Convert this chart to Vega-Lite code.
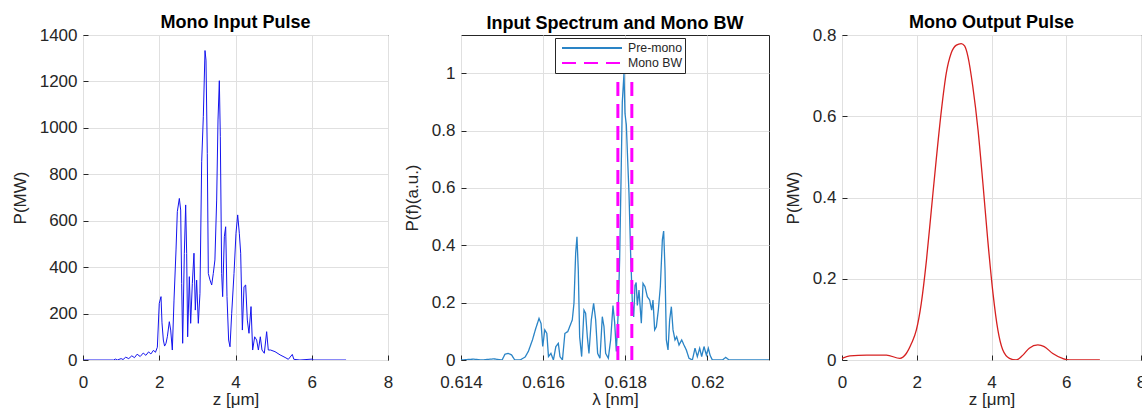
{
  "$schema": "https://vega.github.io/schema/vega-lite/v6.json",
  "padding": {"left": 10, "top": 13, "right": 0, "bottom": 0},
  "spacing": 73,
  "bounds": "flush",
  "resolve": {"scale": {"color": "independent", "strokeDash": "independent"}},
  "config": {
    "font": "Liberation Sans",
    "view": {"stroke": "#262626", "strokeWidth": 1},
    "axis": {
      "labelFontSize": 17, "labelColor": "#262626", "labelFont": "Liberation Sans",
      "titleFontSize": 17, "titleFontWeight": "normal", "titleColor": "#262626", "titleFont": "Liberation Sans",
      "gridColor": "#e0e0e0", "gridWidth": 1, "domain": false,
      "tickColor": "#262626", "tickSize": -5
    },
    "axisX": {"labelPadding": 19, "titlePadding": 1, "labelFlush": false},
    "axisY": {"labelPadding": 11, "titlePadding": 10},
    "title": {"fontSize": 18, "fontWeight": "bold", "offset": -6, "frame": "group", "color": "#000000", "font": "Liberation Sans"}
  },
  "datasets": {
    "pulse": [
      {"z":0,"P":0},{"z":0.8,"P":0},{"z":0.85,"P":4},{"z":0.9,"P":0},{"z":1.0,"P":6},{"z":1.05,"P":2},{"z":1.12,"P":12},{"z":1.2,"P":6},{"z":1.28,"P":18},{"z":1.35,"P":10},{"z":1.42,"P":25},{"z":1.5,"P":15},{"z":1.58,"P":30},{"z":1.65,"P":20},{"z":1.72,"P":35},{"z":1.78,"P":26},{"z":1.85,"P":42},{"z":1.9,"P":33},{"z":1.95,"P":55},
      {"z":2.0,"P":244},{"z":2.046,"P":273},{"z":2.072,"P":160},{"z":2.107,"P":86},{"z":2.14,"P":60},{"z":2.177,"P":72},{"z":2.212,"P":100},{"z":2.264,"P":165},{"z":2.3,"P":129},{"z":2.343,"P":43},{"z":2.387,"P":258},{"z":2.44,"P":474},{"z":2.474,"P":639},{"z":2.527,"P":696},{"z":2.562,"P":646},{"z":2.588,"P":330},{"z":2.614,"P":72},{"z":2.658,"P":459},{"z":2.693,"P":668},{"z":2.719,"P":459},{"z":2.745,"P":100},{"z":2.789,"P":359},{"z":2.824,"P":158},{"z":2.868,"P":330},{"z":2.911,"P":460},{"z":2.946,"P":215},{"z":2.981,"P":344},{"z":3.025,"P":158},{"z":3.068,"P":287},
      {"z":3.113,"P":854},{"z":3.156,"P":1048},{"z":3.2,"P":1333},{"z":3.226,"P":1292},{"z":3.26,"P":890},{"z":3.287,"P":373},{"z":3.33,"P":345},{"z":3.375,"P":323},{"z":3.418,"P":373},{"z":3.46,"P":431},{"z":3.506,"P":689},{"z":3.541,"P":1034},{"z":3.576,"P":1203},{"z":3.602,"P":962},{"z":3.637,"P":373},{"z":3.663,"P":273},{"z":3.707,"P":531},{"z":3.742,"P":574},{"z":3.777,"P":273},{"z":3.82,"P":86},{"z":3.856,"P":57},{"z":3.9,"P":201},{"z":3.961,"P":373},{"z":4.013,"P":546},{"z":4.057,"P":625},{"z":4.1,"P":546},{"z":4.136,"P":460},{"z":4.18,"P":129},{"z":4.223,"P":316},{"z":4.267,"P":323},{"z":4.31,"P":172},{"z":4.354,"P":115},{"z":4.407,"P":230},{"z":4.45,"P":43},{"z":4.503,"P":100},{"z":4.555,"P":86},{"z":4.6,"P":43},{"z":4.651,"P":100},{"z":4.695,"P":43},{"z":4.756,"P":29},{"z":4.817,"P":122},{"z":4.86,"P":43},{"z":4.92,"P":43},{"z":5.036,"P":36},{"z":5.17,"P":22},{"z":5.3,"P":11},{"z":5.386,"P":3},{"z":5.49,"P":24},{"z":5.53,"P":3},{"z":5.69,"P":0},{"z":6.02,"P":4},{"z":6.04,"P":0},{"z":6.9,"P":0}
    ],
    "spec": [
      {"lam":0.614,"P":0,"series":"Pre-mono"},{"lam":0.6143,"P":0.003,"series":"Pre-mono"},{"lam":0.6145,"P":0,"series":"Pre-mono"},{"lam":0.6148,"P":0.004,"series":"Pre-mono"},{"lam":0.615,"P":0,"series":"Pre-mono"},{"lam":0.61507,"P":0.02,"series":"Pre-mono"},{"lam":0.61515,"P":0.023,"series":"Pre-mono"},{"lam":0.61523,"P":0.018,"series":"Pre-mono"},{"lam":0.61531,"P":0,"series":"Pre-mono"},{"lam":0.61544,"P":0,"series":"Pre-mono"},{"lam":0.61556,"P":0.01,"series":"Pre-mono"},{"lam":0.61564,"P":0.03,"series":"Pre-mono"},{"lam":0.61574,"P":0.07,"series":"Pre-mono"},{"lam":0.61582,"P":0.11,"series":"Pre-mono"},{"lam":0.6159,"P":0.145,"series":"Pre-mono"},{"lam":0.61595,"P":0.127,"series":"Pre-mono"},{"lam":0.61599,"P":0.047,"series":"Pre-mono"},{"lam":0.61604,"P":0.105,"series":"Pre-mono"},{"lam":0.61609,"P":0.093,"series":"Pre-mono"},{"lam":0.61613,"P":0.012,"series":"Pre-mono"},{"lam":0.61619,"P":0.023,"series":"Pre-mono"},{"lam":0.61625,"P":0,"series":"Pre-mono"},{"lam":0.61631,"P":0.047,"series":"Pre-mono"},{"lam":0.61637,"P":0.058,"series":"Pre-mono"},{"lam":0.61641,"P":0.012,"series":"Pre-mono"},{"lam":0.61647,"P":0,"series":"Pre-mono"},{"lam":0.61653,"P":0.093,"series":"Pre-mono"},{"lam":0.6166,"P":0.099,"series":"Pre-mono"},
      {"lam":0.61671,"P":0.14,"series":"Pre-mono"},{"lam":0.616751,"P":0.198,"series":"Pre-mono"},{"lam":0.616792,"P":0.372,"series":"Pre-mono"},{"lam":0.616824,"P":0.43,"series":"Pre-mono"},{"lam":0.616856,"P":0.314,"series":"Pre-mono"},{"lam":0.616889,"P":0.081,"series":"Pre-mono"},{"lam":0.616938,"P":0.012,"series":"Pre-mono"},{"lam":0.616995,"P":0.174,"series":"Pre-mono"},{"lam":0.617035,"P":0.163,"series":"Pre-mono"},{"lam":0.617076,"P":0.081,"series":"Pre-mono"},{"lam":0.617116,"P":0.023,"series":"Pre-mono"},{"lam":0.617173,"P":0.14,"series":"Pre-mono"},{"lam":0.61723,"P":0.198,"series":"Pre-mono"},{"lam":0.617279,"P":0.14,"series":"Pre-mono"},{"lam":0.617327,"P":0.023,"series":"Pre-mono"},{"lam":0.617384,"P":0.006,"series":"Pre-mono"},{"lam":0.617441,"P":0.151,"series":"Pre-mono"},{"lam":0.617482,"P":0.116,"series":"Pre-mono"},{"lam":0.617522,"P":0.023,"series":"Pre-mono"},{"lam":0.617587,"P":0.006,"series":"Pre-mono"},{"lam":0.617644,"P":0.07,"series":"Pre-mono"},{"lam":0.617701,"P":0.19,"series":"Pre-mono"},{"lam":0.617742,"P":0.13,"series":"Pre-mono"},{"lam":0.617782,"P":0.03,"series":"Pre-mono"},{"lam":0.617823,"P":0.15,"series":"Pre-mono"},{"lam":0.617863,"P":0.35,"series":"Pre-mono"},{"lam":0.617896,"P":0.62,"series":"Pre-mono"},{"lam":0.617928,"P":0.9,"series":"Pre-mono"},{"lam":0.617969,"P":1.0,"series":"Pre-mono"},{"lam":0.617993,"P":0.86,"series":"Pre-mono"},{"lam":0.618026,"P":0.82,"series":"Pre-mono"},{"lam":0.618058,"P":0.7,"series":"Pre-mono"},{"lam":0.618091,"P":0.58,"series":"Pre-mono"},{"lam":0.618131,"P":0.37,"series":"Pre-mono"},{"lam":0.618172,"P":0.2,"series":"Pre-mono"},{"lam":0.618205,"P":0.15,"series":"Pre-mono"},{"lam":0.618237,"P":0.26,"series":"Pre-mono"},{"lam":0.618265,"P":0.27,"series":"Pre-mono"},{"lam":0.618294,"P":0.19,"series":"Pre-mono"},{"lam":0.618334,"P":0.244,"series":"Pre-mono"},{"lam":0.618391,"P":0.128,"series":"Pre-mono"},{"lam":0.618432,"P":0.267,"series":"Pre-mono"},{"lam":0.61848,"P":0.256,"series":"Pre-mono"},{"lam":0.618537,"P":0.221,"series":"Pre-mono"},{"lam":0.618594,"P":0.209,"series":"Pre-mono"},{"lam":0.618643,"P":0.174,"series":"Pre-mono"},{"lam":0.618675,"P":0.209,"series":"Pre-mono"},{"lam":0.618716,"P":0.105,"series":"Pre-mono"},{"lam":0.618757,"P":0.116,"series":"Pre-mono"},{"lam":0.618805,"P":0.174,"series":"Pre-mono"},{"lam":0.618854,"P":0.256,"series":"Pre-mono"},{"lam":0.618903,"P":0.419,"series":"Pre-mono"},{"lam":0.618935,"P":0.45,"series":"Pre-mono"},{"lam":0.618968,"P":0.314,"series":"Pre-mono"},{"lam":0.619,"P":0.07,"series":"Pre-mono"},{"lam":0.619041,"P":0.035,"series":"Pre-mono"},{"lam":0.619081,"P":0.14,"series":"Pre-mono"},{"lam":0.619122,"P":0.186,"series":"Pre-mono"},{"lam":0.619163,"P":0.105,"series":"Pre-mono"},{"lam":0.619211,"P":0.07,"series":"Pre-mono"},{"lam":0.619252,"P":0.081,"series":"Pre-mono"},{"lam":0.619309,"P":0.052,"series":"Pre-mono"},{"lam":0.619374,"P":0.07,"series":"Pre-mono"},{"lam":0.61943,"P":0.052,"series":"Pre-mono"},{"lam":0.619487,"P":0.035,"series":"Pre-mono"},{"lam":0.619552,"P":0.006,"series":"Pre-mono"},{"lam":0.619634,"P":0,"series":"Pre-mono"},{"lam":0.619698,"P":0.041,"series":"Pre-mono"},{"lam":0.619755,"P":0.012,"series":"Pre-mono"},{"lam":0.619812,"P":0.041,"series":"Pre-mono"},{"lam":0.619861,"P":0.012,"series":"Pre-mono"},{"lam":0.619918,"P":0.047,"series":"Pre-mono"},{"lam":0.619975,"P":0.017,"series":"Pre-mono"},{"lam":0.620023,"P":0.041,"series":"Pre-mono"},{"lam":0.620064,"P":0.017,"series":"Pre-mono"},{"lam":0.620121,"P":0,"series":"Pre-mono"},{"lam":0.620364,"P":0,"series":"Pre-mono"},{"lam":0.620446,"P":0.009,"series":"Pre-mono"},{"lam":0.620527,"P":0,"series":"Pre-mono"},{"lam":0.6216,"P":0,"series":"Pre-mono"}
    ],
    "bw": [
      {"lam":0.61782,"lo":0,"hi":1,"series":"Mono BW"},
      {"lam":0.61816,"lo":0,"hi":1,"series":"Mono BW"}
    ],
    "out": [
      {"z":0,"P":0.004},{"z":0.21,"P":0.01},{"z":0.66,"P":0.012},{"z":1.19,"P":0.012},{"z":1.55,"P":0.004},{"z":1.72,"P":0.016},{"z":1.86,"P":0.041},{"z":1.99,"P":0.074},{"z":2.12,"P":0.139},{"z":2.26,"P":0.246},{"z":2.39,"P":0.369},{"z":2.52,"P":0.492},{"z":2.66,"P":0.615},{"z":2.79,"P":0.706},{"z":2.92,"P":0.755},{"z":3.06,"P":0.775},{"z":3.19,"P":0.779},{"z":3.28,"P":0.773},{"z":3.37,"P":0.747},{"z":3.5,"P":0.673},{"z":3.64,"P":0.566},{"z":3.77,"P":0.435},{"z":3.9,"P":0.295},{"z":4.04,"P":0.164},{"z":4.17,"P":0.074},{"z":4.3,"P":0.025},{"z":4.48,"P":0.004},{"z":4.66,"P":0},{"z":4.84,"P":0.012},{"z":5.01,"P":0.029},{"z":5.24,"P":0.037},{"z":5.41,"P":0.033},{"z":5.64,"P":0.016},{"z":5.9,"P":0.004},{"z":6.08,"P":0},{"z":6.9,"P":0}
    ]
  },
  "hconcat": [
    {
      "width": 305, "height": 325,
      "title": "Mono Input Pulse",
      "data": {"name": "pulse"},
      "mark": {"type": "line", "color": "#1414ee", "strokeWidth": 1, "clip": true},
      "encoding": {
        "x": {"field": "z", "type": "quantitative", "scale": {"domain": [0, 8], "nice": false},
              "axis": {"title": "z [μm]", "values": [0, 2, 4, 6, 8], "format": "d"}},
        "y": {"field": "P", "type": "quantitative", "scale": {"domain": [0, 1400], "nice": false},
              "axis": {"title": "P(MW)", "values": [0, 200, 400, 600, 800, 1000, 1200, 1400], "format": "d"}}
      }
    },
    {
      "width": 308, "height": 325,
      "title": {"text": "Input Spectrum and Mono BW", "offset": 2.5},
      "layer": [
        {
          "data": {"name": "spec"},
          "mark": {"type": "line", "strokeWidth": 1.3, "clip": true},
          "encoding": {
            "x": {"field": "lam", "type": "quantitative", "scale": {"domain": [0.614, 0.6215], "nice": false, "zero": false},
                  "axis": {"title": "λ [nm]", "values": [0.614, 0.616, 0.618, 0.62], "format": "~g"}},
            "y": {"field": "P", "type": "quantitative", "scale": {"domain": [0, 1.1336], "nice": false},
                  "axis": {"title": "P(f)(a.u.)", "values": [0, 0.2, 0.4, 0.6, 0.8, 1], "format": "~g"}},
            "color": {"field": "series", "type": "nominal",
                      "scale": {"domain": ["Pre-mono", "Mono BW"], "range": ["#2a84c6", "#ff00ff"]},
                      "legend": {"title": null, "orient": "none", "legendX": 94, "legendY": 3, "strokeColor": "#262626", "fillColor": "#ffffff", "padding": 3, "rowPadding": 1, "symbolType": "M-0.5,0H9.5", "symbolSize": 144, "symbolStrokeWidth": 2, "labelOffset": 56, "labelFontSize": 12.3, "labelColor": "#262626", "labelFont": "Liberation Sans"}},
            "strokeDash": {"field": "series", "type": "nominal",
                           "scale": {"domain": ["Pre-mono", "Mono BW"], "range": [[1, 0], [14, 8]]},
                           "legend": {"title": null, "orient": "none", "legendX": 94, "legendY": 3, "strokeColor": "#262626", "fillColor": "#ffffff", "padding": 3, "rowPadding": 1, "symbolType": "M-0.5,0H9.5", "symbolSize": 144, "symbolStrokeWidth": 2, "labelOffset": 56, "labelFontSize": 12.3, "labelColor": "#262626", "labelFont": "Liberation Sans"}}
          }
        },
        {
          "data": {"name": "bw"},
          "mark": {"type": "rule", "strokeWidth": 3},
          "encoding": {
            "x": {"field": "lam", "type": "quantitative"},
            "y": {"field": "lo", "type": "quantitative"},
            "y2": {"field": "hi"},
            "color": {"field": "series", "type": "nominal"},
            "strokeDash": {"field": "series", "type": "nominal"}
          }
        }
      ]
    },
    {
      "width": 299, "height": 325,
      "title": "Mono Output Pulse",
      "data": {"name": "out"},
      "mark": {"type": "line", "color": "#d62020", "strokeWidth": 1.3, "interpolate": "monotone", "clip": true},
      "encoding": {
        "x": {"field": "z", "type": "quantitative", "scale": {"domain": [0, 8], "nice": false},
              "axis": {"title": "z [μm]", "values": [0, 2, 4, 6, 8], "format": "d"}},
        "y": {"field": "P", "type": "quantitative", "scale": {"domain": [0, 0.8], "nice": false},
              "axis": {"title": "P(MW)", "values": [0, 0.2, 0.4, 0.6, 0.8], "format": "~g"}}
      }
    }
  ]
}
